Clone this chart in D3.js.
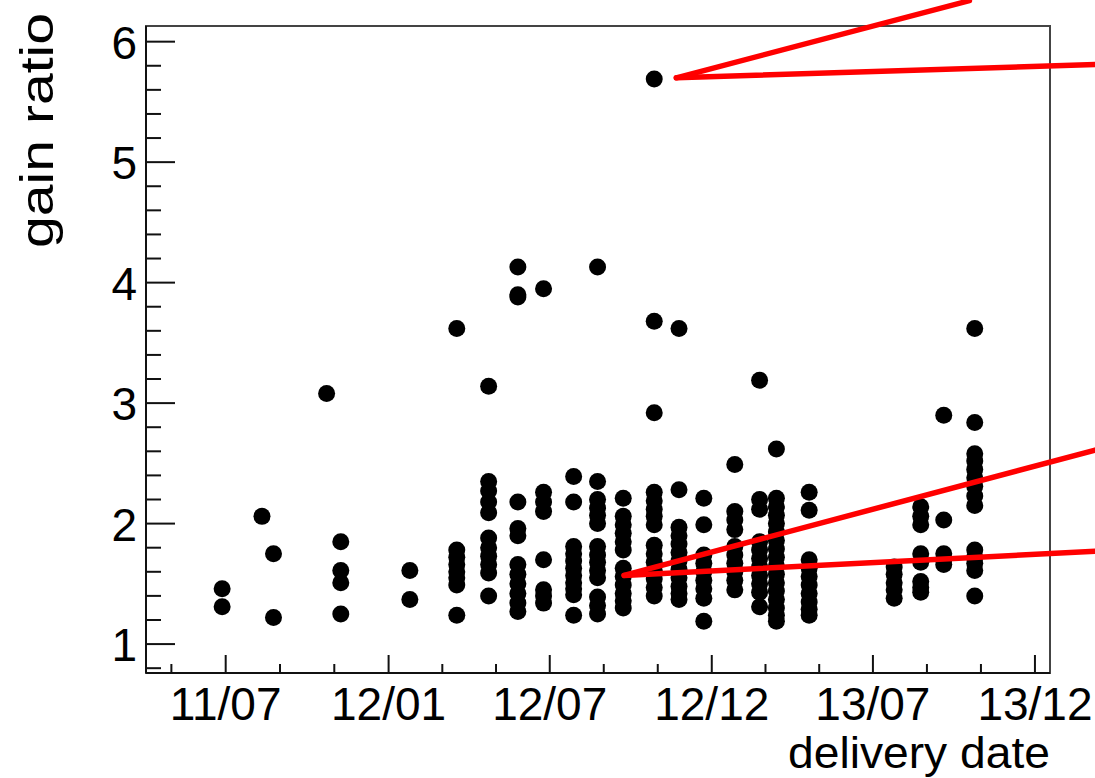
<!DOCTYPE html>
<html>
<head>
<meta charset="utf-8">
<script src="https://d3js.org/d3.v7.min.js"></script>
<style>
  html, body { margin: 0; padding: 0; background: #ffffff; }
  svg { display: block; }
</style>
</head>
<body>
<div id="chart"></div>
<script>
// delivery date of each batch and the gain ratios measured in it
const deliveryDates = [
  '2011-06-27', '2011-08-11', '2011-08-24', '2011-10-23', '2011-11-08', '2012-01-25',
  '2012-03-18', '2012-04-23', '2012-05-26', '2012-06-24', '2012-07-28', '2012-08-24',
  '2012-09-22', '2012-10-27', '2012-11-24', '2012-12-22', '2013-01-26', '2013-02-23',
  '2013-03-14', '2013-04-20', '2013-07-25', '2013-08-24', '2013-09-19', '2013-10-24'
];

const gainRatios = [
  [1.46, 1.31],
  [2.06],
  [1.75, 1.22],
  [3.08],
  [1.85, 1.61, 1.51, 1.25],
  [1.61, 1.37],
  [3.62, 1.78, 1.72, 1.66, 1.60, 1.55, 1.49, 1.24],
  [3.14, 2.35, 2.27, 2.18, 2.09, 1.88, 1.80, 1.73, 1.66, 1.59, 1.40],
  [4.13, 3.90, 3.88, 2.18, 1.96, 1.90, 1.66, 1.58, 1.50, 1.42, 1.34, 1.27],
  [3.95, 2.26, 2.18, 2.10, 1.70, 1.45, 1.40, 1.34],
  [2.39, 2.18, 1.81, 1.75, 1.69, 1.63, 1.57, 1.51, 1.46, 1.41, 1.24],
  [4.13, 2.35, 2.20, 2.13, 2.07, 2.00, 1.81, 1.74, 1.68, 1.61, 1.55, 1.39, 1.32, 1.25],
  [2.21, 2.06, 1.99, 1.92, 1.85, 1.78, 1.63, 1.56, 1.49, 1.42, 1.36, 1.30],
  [5.69, 3.68, 2.92, 2.26, 2.19, 2.12, 2.06, 1.99, 1.82, 1.75, 1.68, 1.61, 1.54, 1.47, 1.40],
  [3.62, 2.28, 1.97, 1.90, 1.83, 1.76, 1.69, 1.62, 1.55, 1.48, 1.42, 1.37],
  [2.21, 1.99, 1.74, 1.67, 1.60, 1.53, 1.46, 1.38, 1.19],
  [2.49, 2.10, 2.03, 1.95, 1.81, 1.74, 1.67, 1.60, 1.53, 1.45],
  [3.19, 2.20, 2.12, 1.85, 1.78, 1.71, 1.64, 1.57, 1.50, 1.43, 1.31],
  [2.62, 2.21, 2.14, 2.07, 2.00, 1.93, 1.86, 1.79, 1.72, 1.65, 1.58, 1.51, 1.44, 1.37, 1.30, 1.24, 1.19],
  [2.26, 2.11, 1.70, 1.63, 1.56, 1.49, 1.42, 1.35, 1.29, 1.24],
  [1.64, 1.58, 1.51, 1.45, 1.38],
  [2.14, 2.06, 1.99, 1.75, 1.68, 1.52, 1.47, 1.43],
  [2.90, 2.03, 1.75, 1.70, 1.66],
  [3.62, 2.84, 2.58, 2.52, 2.45, 2.38, 2.31, 2.23, 2.15, 1.78, 1.72, 1.67, 1.61, 1.40]
];

// axis ticks
const xTickDates = ['2011-07-01', '2012-01-01', '2012-07-01', '2012-12-31', '2013-07-01', '2013-12-31'];
const xDomain = ['2011-04-02', '2014-01-17'];
const yDomain = [0.76, 6.13];
const yTicks = [1, 2, 3, 4, 5, 6];

// red callout lines: apex and the two far ends, in (date, gain ratio)
const callouts = [
  { apex: ['2012-11-21', 5.70], ends: [['2013-10-18', 6.34], ['2014-03-09', 5.81]] },
  { apex: ['2012-09-23', 1.57], ends: [['2014-03-09', 2.61], ['2014-03-09', 1.77]] }
];

const width = 1095;
const height = 778;
const frame = { left: 146, right: 1050, top: 26, bottom: 673 };
const font = 'Liberation Sans, Arial, sans-serif';

const parse = d3.utcParse('%Y-%m-%d');

const svg = d3.select('#chart')
  .append('svg')
  .attr('width', width)
  .attr('height', height);

const x = d3.scaleUtc()
  .domain(xDomain.map(parse))
  .range([frame.left, frame.right]);

const y = d3.scaleLinear()
  .domain(yDomain)
  .range([frame.bottom, frame.top]);

// Frame
svg.append('rect')
  .attr('x', frame.left)
  .attr('y', frame.top)
  .attr('width', frame.right - frame.left)
  .attr('height', frame.bottom - frame.top)
  .attr('fill', 'none')
  .attr('stroke', '#444')
  .attr('stroke-width', 2);

// Y axis (ROOT style: ticks inside, 5 minor divisions)
const yMinor = d3.range(yDomain[0], yDomain[1], 0.2)
  .map(v => Math.round(v * 5) / 5)
  .filter(v => v >= yDomain[0] && v <= yDomain[1] && !yTicks.includes(v));

const yAxis = svg.append('g').attr('class', 'y-axis');

yAxis.selectAll('.minor')
  .data(yMinor)
  .enter()
  .append('line')
  .attr('x1', frame.left)
  .attr('x2', frame.left + 15)
  .attr('y1', d => y(d))
  .attr('y2', d => y(d))
  .attr('stroke', '#111')
  .attr('stroke-width', 2);

yAxis.selectAll('.major')
  .data(yTicks)
  .enter()
  .append('line')
  .attr('x1', frame.left)
  .attr('x2', frame.left + 29)
  .attr('y1', d => y(d))
  .attr('y2', d => y(d))
  .attr('stroke', '#111')
  .attr('stroke-width', 2);

yAxis.selectAll('text')
  .data(yTicks)
  .enter()
  .append('text')
  .attr('x', 137)
  .attr('y', d => y(d) + 17)
  .attr('text-anchor', 'end')
  .attr('font-family', font)
  .attr('font-size', '46px')
  .text(d => d);

yAxis.append('line')
  .attr('x1', frame.left).attr('x2', frame.left)
  .attr('y1', frame.top).attr('y2', frame.bottom)
  .attr('stroke', '#111')
  .attr('stroke-width', 2);

// X axis (time): majors at the labelled dates, two minors in between
const majorDates = xTickDates.map(parse);
const xMinor = [];
const step = (+majorDates[1] - +majorDates[0]) / 3;
xMinor.push(new Date(+majorDates[0] - step));
for (let i = 0; i < majorDates.length - 1; i++) {
  const a = +majorDates[i];
  const b = +majorDates[i + 1];
  xMinor.push(new Date(a + (b - a) / 3));
  xMinor.push(new Date(a + 2 * (b - a) / 3));
}

const xAxis = svg.append('g').attr('class', 'x-axis');

xAxis.selectAll('.minor')
  .data(xMinor.filter(d => x(d) >= frame.left))
  .enter()
  .append('line')
  .attr('x1', d => x(d))
  .attr('x2', d => x(d))
  .attr('y1', frame.bottom)
  .attr('y2', frame.bottom - 9)
  .attr('stroke', '#111')
  .attr('stroke-width', 2);

xAxis.selectAll('.major')
  .data(majorDates)
  .enter()
  .append('line')
  .attr('x1', d => x(d))
  .attr('x2', d => x(d))
  .attr('y1', frame.bottom)
  .attr('y2', frame.bottom - 18)
  .attr('stroke', '#111')
  .attr('stroke-width', 2);

const fmt = d3.utcFormat('%y/%m');

xAxis.selectAll('text')
  .data(majorDates)
  .enter()
  .append('text')
  .attr('x', d => x(d))
  .attr('y', 720)
  .attr('text-anchor', 'middle')
  .attr('font-family', font)
  .attr('font-size', '46px')
  .text(d => fmt(d));

xAxis.append('line')
  .attr('x1', frame.left).attr('x2', frame.right)
  .attr('y1', frame.bottom).attr('y2', frame.bottom)
  .attr('stroke', '#111')
  .attr('stroke-width', 2);

// Axis titles
svg.append('text')
  .attr('x', frame.right)
  .attr('y', 768)
  .attr('text-anchor', 'end')
  .attr('font-family', font)
  .attr('font-size', '45px')
  .attr('textLength', 262)
  .attr('lengthAdjust', 'spacingAndGlyphs')
  .text('delivery date');

svg.append('text')
  .attr('transform', 'translate(53, 13) rotate(-90)')
  .attr('text-anchor', 'end')
  .attr('font-family', font)
  .attr('font-size', '47px')
  .attr('textLength', 235)
  .attr('lengthAdjust', 'spacingAndGlyphs')
  .text('gain ratio');

// Points
const points = deliveryDates.flatMap((d, i) =>
  gainRatios[i].map(v => ({ date: parse(d), value: v })));

svg.append('g')
  .selectAll('circle')
  .data(points)
  .enter()
  .append('circle')
  .attr('cx', d => x(d.date))
  .attr('cy', d => y(d.value))
  .attr('r', 8.5)
  .attr('fill', '#000');

// Red callout lines
const calloutG = svg.append('g');
callouts.forEach(c => {
  c.ends.forEach(e => {
    calloutG.append('line')
      .attr('x1', x(parse(c.apex[0])))
      .attr('y1', y(c.apex[1]))
      .attr('x2', x(parse(e[0])))
      .attr('y2', y(e[1]))
      .attr('stroke', '#ff0000')
      .attr('stroke-width', 5.5)
      .attr('stroke-linecap', 'round');
  });
});
</script>
</body>
</html>
